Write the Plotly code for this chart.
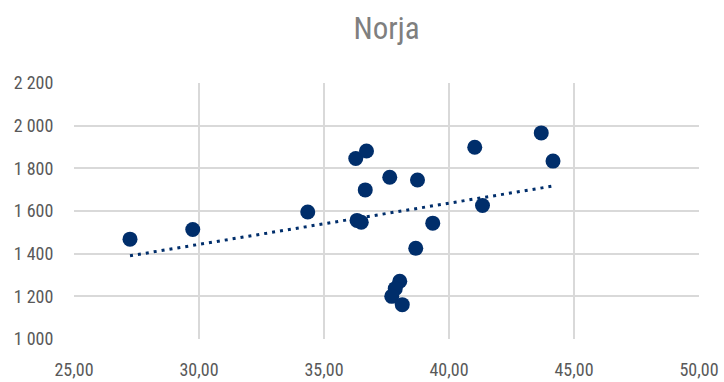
import numpy as np
import plotly.graph_objects as go

title = "Norja"
x_vals = [27.24, 29.75, 34.35, 36.27, 36.70, 36.65, 36.32, 36.49, 37.63, 38.74,
          39.35, 38.67, 38.03, 37.85, 37.71, 38.13, 41.03, 41.34, 43.69, 44.16]
y_vals = [1468, 1513, 1595, 1846, 1881, 1699, 1556, 1547, 1758, 1745,
          1543, 1425, 1271, 1236, 1200, 1161, 1899, 1626, 1966, 1834]
x_ticks = [25, 30, 35, 40, 45, 50]
y_ticks = [1000, 1200, 1400, 1600, 1800, 2000, 2200]

navy = "#002E6B"
grid = "#D9D9D9"
font_fam = "Liberation Sans Narrow, Roboto Condensed, Arial Narrow, sans-serif"

slope, intercept = np.polyfit(x_vals, y_vals, 1)
tx = [min(x_vals), max(x_vals)]
ty = [slope * v + intercept for v in tx]

fig = go.Figure()
fig.add_trace(go.Scatter(x=tx, y=ty, mode="lines",
                         line=dict(color=navy, width=3, dash="3px,5px"),
                         hoverinfo="skip", showlegend=False))
fig.add_trace(go.Scatter(x=x_vals, y=y_vals, mode="markers",
                         marker=dict(color=navy, size=15, line=dict(width=0)),
                         showlegend=False))

fig.update_layout(
    width=724, height=382,
    margin=dict(l=74, r=25, t=83, b=43),
    paper_bgcolor="white", plot_bgcolor="white",
    separators=", ",
    title=dict(text=title, x=(74 + 699) / 2 / 724, xref="container", xanchor="center",
               y=1 - 28 / 382, yref="container", yanchor="middle",
               font=dict(family=font_fam, size=31, color="#7F7F7F")),
    font=dict(family=font_fam, size=18, color="#595959"),
    xaxis=dict(range=[25, 50], tickvals=x_ticks, tickformat=",.2f",
               showgrid=True, gridcolor=grid, gridwidth=1.5,
               zeroline=False, showline=False, automargin=False,
               ticks="outside", ticklen=14, tickcolor="rgba(0,0,0,0)",
               tickfont=dict(size=18, color="#595959")),
    yaxis=dict(range=[1000, 2200], tickvals=y_ticks, tickformat=",d",
               showgrid=True, gridcolor=grid, gridwidth=1.5,
               zeroline=False, showline=False, automargin=False,
               ticks="outside", ticklen=16, tickcolor="rgba(0,0,0,0)",
               tickfont=dict(size=18, color="#595959")),
)

fig.write_html("out.html",
               config={"displayModeBar": False},
               post_script="document.body.style.margin='0';document.body.style.overflow='hidden';")
